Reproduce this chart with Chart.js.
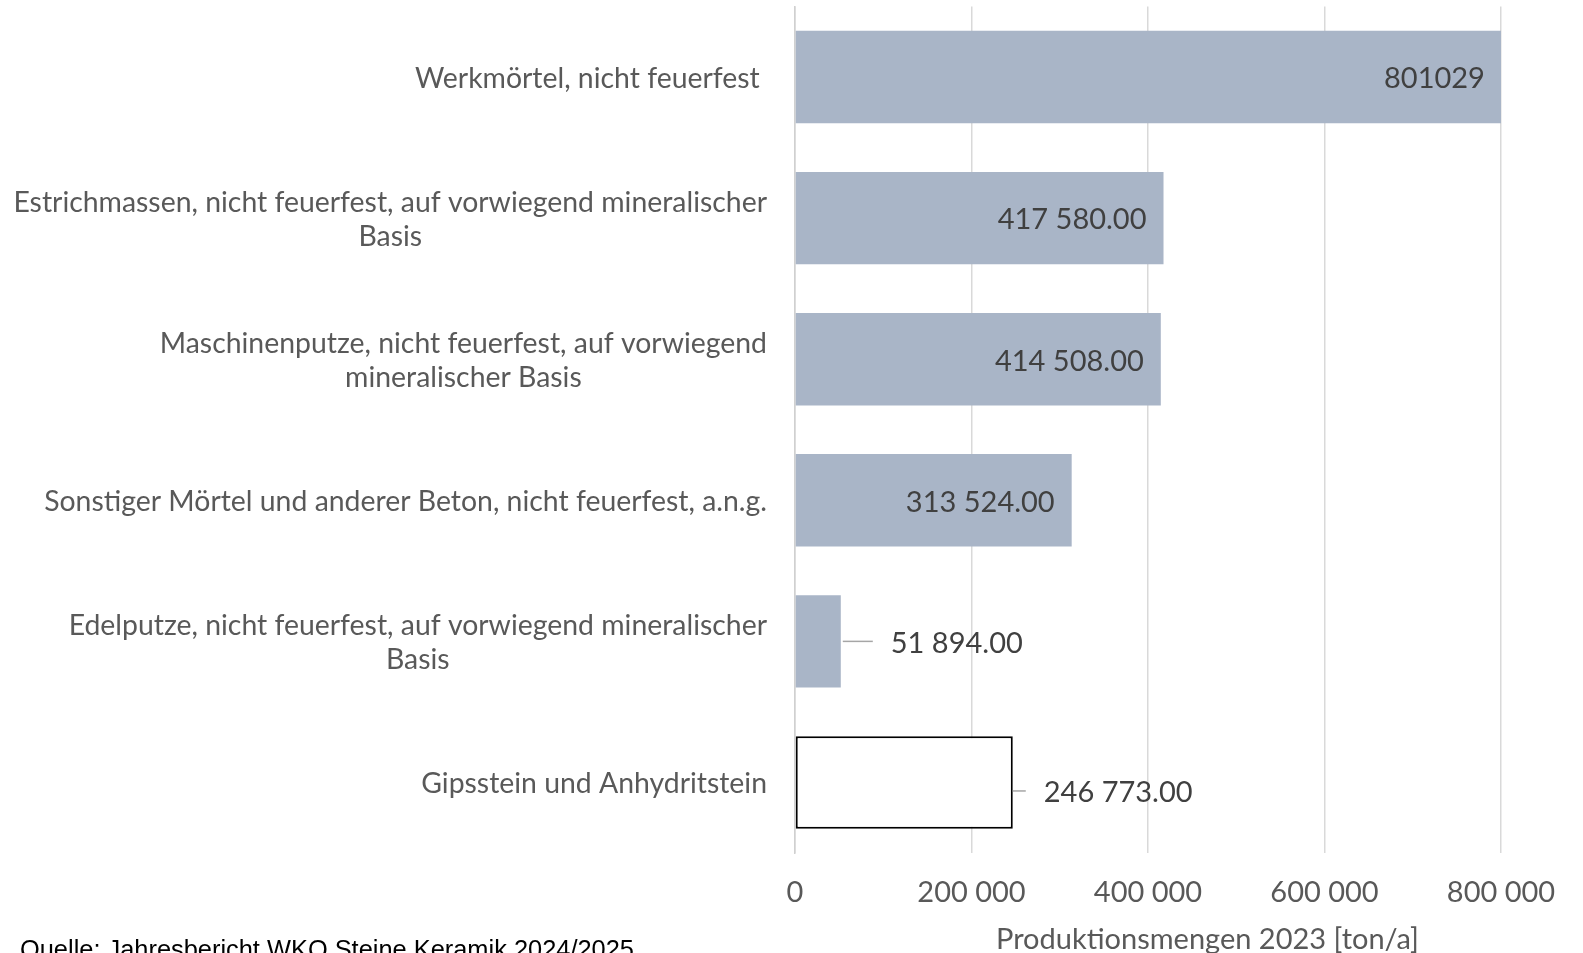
<!DOCTYPE html>
<html><head><meta charset="utf-8">
<script src="https://cdn.jsdelivr.net/npm/chart.js@4.4.1/dist/chart.umd.min.js"></script>
<style>html,body{margin:0;padding:0;background:#fff;overflow:hidden}#wrap{width:1583px;height:953px;position:relative}</style>
</head><body><div id="wrap"><canvas id="c" width="1583" height="953"></canvas></div>
<script>
const categories = [
  ["Werkmörtel, nicht feuerfest "],
  ["Estrichmassen, nicht feuerfest, auf vorwiegend mineralischer", "Basis"],
  ["Maschinenputze, nicht feuerfest, auf vorwiegend", "mineralischer Basis"],
  ["Sonstiger Mörtel und anderer Beton, nicht feuerfest, a.n.g."],
  ["Edelputze, nicht feuerfest, auf vorwiegend mineralischer", "Basis"],
  ["Gipsstein und Anhydritstein"]
];
const values = [801029, 417580, 414508, 313524, 51894, 246773];
const valueLabels = ["801029", "417 580.00", "414 508.00", "313 524.00", "51 894.00", "246 773.00"];
const xTicks = [0, 200000, 400000, 600000, 800000];
const xTitle = "Produktionsmengen 2023 [ton/a]";
const sourceText = "Quelle: Jahresbericht WKO Steine Keramik 2024/2025";

const FONT = "Lato";
const FS = 29;
const CAT_FS = 28.4;
const fmt = v => String(v).replace(/\B(?=(\d{3})+(?!\d))/g, ' ');
const labelPlacement = [
  {inside: true}, {inside: true}, {inside: true}, {inside: true},
  {inside: false, line: [2, 32], text: 50, dy: 0},
  {inside: false, line: [0, 13], text: 31, dy: 8.5}
];

const overlay = {
  id: 'overlay',
  afterDraw(chart) {
    const ctx = chart.ctx;
    const ys = chart.scales.y;
    ctx.save();
    // category labels
    ctx.font = `${CAT_FS}px ${FONT}`;
    ctx.fillStyle = '#595959';
    ctx.textBaseline = 'middle';
    ctx.textAlign = 'center';
    categories.forEach((lines, i) => {
      const cy = ys.getPixelForValue(i) + 1.5;
      const w = Math.max(...lines.map(l => ctx.measureText(l).width));
      const cx = 767 - w / 2;
      const lh = 34.5;
      lines.forEach((l, j) => {
        ctx.fillText(l, cx, cy + (j - (lines.length - 1) / 2) * lh);
      });
    });
    // data labels
    ctx.font = `${FS}px ${FONT}`;
    const meta = chart.getDatasetMeta(0);
    ctx.fillStyle = '#404040';
    meta.data.forEach((bar, i) => {
      const p = labelPlacement[i];
      if (p.inside) {
        ctx.textAlign = 'right';
        ctx.fillText(valueLabels[i], bar.x - 17, bar.y + 2);
      } else {
        const y = bar.y + p.dy;
        ctx.strokeStyle = '#a6a6a6';
        ctx.lineWidth = 1.5;
        ctx.beginPath();
        ctx.moveTo(bar.x + p.line[0], y);
        ctx.lineTo(bar.x + p.line[1], y);
        ctx.stroke();
        ctx.textAlign = 'left';
        ctx.fillText(valueLabels[i], bar.x + p.text, y + 2);
      }
    });
    // axis title
    ctx.fillStyle = '#595959';
    ctx.textAlign = 'center';
    ctx.fillText(xTitle, 1207.5, 940);
    // source
    ctx.fillStyle = '#000000';
    ctx.textAlign = 'left';
    ctx.textBaseline = 'alphabetic';
    ctx.font = `25.4px "Liberation Sans"`;
    ctx.fillText(sourceText, 20, 958);
    ctx.restore();
  }
};

new Chart(document.getElementById('c'), {
  type: 'bar',
  data: {
    labels: categories,
    datasets: [{
      data: values,
      backgroundColor: ['#a9b5c7', '#a9b5c7', '#a9b5c7', '#a9b5c7', '#a9b5c7', '#ffffff'],
      borderColor: ['#a9b5c7', '#a9b5c7', '#a9b5c7', '#a9b5c7', '#a9b5c7', '#000000'],
      borderWidth: [0, 0, 0, 0, 0, 2],
      borderSkipped: false,
      barPercentage: 0.655,
      categoryPercentage: 1
    }]
  },
  options: {
    responsive: false,
    animation: false,
    indexAxis: 'y',
    layout: {padding: {left: 0, right: 82, top: 6.5, bottom: 0}},
    plugins: {legend: {display: false}, tooltip: {enabled: false}},
    scales: {
      x: {
        min: 0, max: 800000,
        afterBuildTicks: s => { s.ticks = xTicks.map(v => ({value: v})); },
        afterFit: s => { s.height = 100; },
        ticks: {callback: v => fmt(v), color: '#595959', font: {family: FONT, size: FS}, padding: 22, maxRotation: 0, autoSkip: false},
        grid: {color: '#d9d9d9', lineWidth: 1.5, drawTicks: false},
        border: {display: false}
      },
      y: {
        ticks: {display: false},
        grid: {display: false},
        border: {display: true, color: '#d0d0d0', width: 1.5},
        afterFit: s => { s.width = 795; }
      }
    }
  },
  plugins: [overlay]
});
</script>
</body></html>
